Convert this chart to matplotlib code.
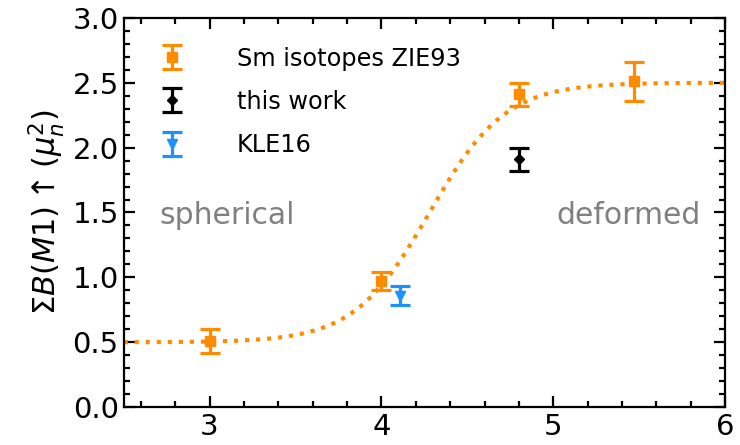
import numpy as np
import matplotlib
matplotlib.use('Agg')
import matplotlib.pyplot as plt
from matplotlib.ticker import MultipleLocator

# Sm isotopes (ZIE93)
sm_x = [3.0, 4.0, 4.8, 5.47]
sm_y = [0.51, 0.97, 2.41, 2.51]
sm_err = [0.09, 0.07, 0.09, 0.15]

# this work
tw_x = [4.8]
tw_y = [1.91]
tw_err = [0.09]

# KLE16
kle_x = [4.11]
kle_y = [0.86]
kle_err = [0.07]

# logistic trend between spherical and deformed limits
fit_low = 0.5
fit_high = 2.5
fit_center = 4.28
fit_width = 0.22

plt.rcParams['font.size'] = 21
plt.rcParams['axes.linewidth'] = 1.6

fig, ax = plt.subplots(figsize=(7.4, 4.45), dpi=100)
fig.subplots_adjust(left=0.167, right=0.98, top=0.96, bottom=0.085)

xs = np.linspace(2.5, 6.0, 300)
ys = fit_low + (fit_high - fit_low) / (1 + np.exp(-(xs - fit_center) / fit_width))
ax.plot(xs, ys, ':', color='darkorange', lw=3)

eb = dict(capsize=7, elinewidth=2.3, capthick=2.3, ls='none')
ax.errorbar(sm_x, sm_y, yerr=sm_err, fmt='s', color='darkorange', markersize=7,
            label='Sm isotopes ZIE93', **eb)
ax.errorbar(tw_x, tw_y, yerr=tw_err, fmt='D', color='black', markersize=5.5,
            label='this work', **eb)
ax.errorbar(kle_x, kle_y, yerr=kle_err, fmt='v', color='dodgerblue', markersize=7,
            label='KLE16', **eb)

ax.text(3.1, 1.48, 'spherical', color='gray', ha='center', va='center', fontsize=21.5)
ax.text(5.44, 1.48, 'deformed', color='gray', ha='center', va='center', fontsize=21.5)

ax.set_xlim(2.5, 6.0)
ax.set_ylim(0.0, 3.0)
ax.xaxis.set_major_locator(MultipleLocator(1))
ax.xaxis.set_minor_locator(MultipleLocator(0.2))
ax.yaxis.set_major_locator(MultipleLocator(0.5))
ax.yaxis.set_minor_locator(MultipleLocator(0.1))
ax.tick_params(which='both', direction='in', top=True, right=True, width=1.6)
ax.tick_params(which='major', length=8, labelsize=21)
ax.tick_params(which='minor', length=4)
ax.tick_params(axis='x', pad=4)

ax.set_ylabel(r'$\Sigma B(M1)\uparrow (\mu_n^2)$', fontsize=22)

ax.legend(loc='upper left', frameon=False, fontsize=17.3, handletextpad=1.9,
          borderaxespad=0.8, labelspacing=0.8, handlelength=1.6)

fig.savefig('out.png', dpi=100)
